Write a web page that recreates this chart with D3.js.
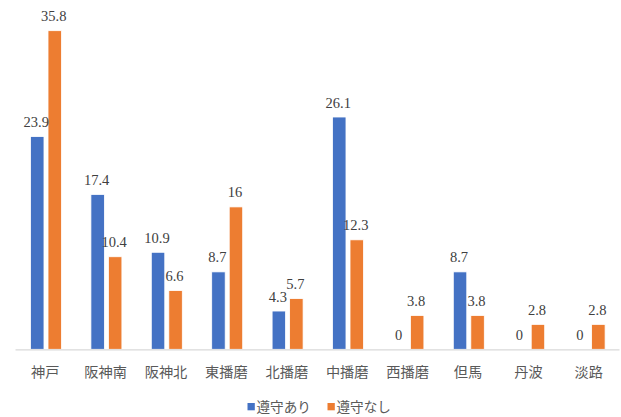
<!DOCTYPE html>
<html><head><meta charset="utf-8">
<script src="https://cdn.jsdelivr.net/npm/d3@7"></script>
<style>body{margin:0;background:#fff}
.val{font-family:"Liberation Serif","Times New Roman",Times,"DejaVu Serif",serif;}
.cjk{font-family:"Noto Sans CJK JP","Noto Sans CJK SC",sans-serif;}
</style>
</head><body>
<svg id="c" width="621" height="417"></svg>
<script>
const categories = ["神戸","阪神南","阪神北","東播磨","北播磨","中播磨","西播磨","但馬","丹波","淡路"];
const seriesNames = ["遵守あり","遵守なし"];
const withCompliance = [23.9,17.4,10.9,8.7,4.3,26.1,0,8.7,0,0];
const withoutCompliance = [35.8,10.4,6.6,16,5.7,12.3,3.8,3.8,2.8,2.8];
const colors = ["#4472C4","#ED7D31"];

const svg = d3.select("#c");
const base = 349.3;
const x = d3.scaleBand().domain(categories).range([15, 619]);
const inner = d3.scaleBand().domain(seriesNames).range([15.5, 46.5]).paddingInner(0.23);
const y = d3.scaleLinear().domain([0, 40]).range([base, base - 356]);

const data = categories.map((c,i)=>({c, vals:[withCompliance[i], withoutCompliance[i]]}));

const g = svg.append("g");
const groups = g.selectAll("g.cat").data(data).join("g")
  .attr("transform", d=>`translate(${x(d.c)},0)`);

groups.selectAll("rect").data(d=>d.vals.map((v,k)=>({v,k,s:seriesNames[k]}))).join("rect")
  .filter(d=>d.v>0)
  .attr("x", d=>inner(d.s)).attr("width", inner.bandwidth())
  .attr("y", d=>y(d.v)).attr("height", d=>base - y(d.v))
  .attr("fill", d=>colors[d.k])
  .attr("stroke","#fff").attr("stroke-width",0.8);

groups.selectAll("text.val").data(d=>d.vals.map((v,k)=>({v,k,s:seriesNames[k]}))).join("text")
  .attr("class","val")
  .attr("x", d=>inner(d.s)+inner.bandwidth()/2 - 1)
  .attr("y", d=>y(d.v) - 9.5)
  .attr("text-anchor","middle")
  .style("font-size","14.5px")
  .attr("fill","#404040")
  .text(d=>d.v);

// axis
const axis = d3.axisBottom(x).tickSize(0).tickPadding(0);
const ax = svg.append("g").attr("transform",`translate(0,${base})`).call(axis);
ax.attr("font-family",null).attr("font-size",null);
ax.select(".domain").attr("stroke","#d9d9d9").attr("stroke-width",1.2);
ax.selectAll(".tick text")
  .attr("dy", null).attr("y", 28)
  .attr("class","cjk")
  .style("font-size","14.2px")
  .attr("fill","#595959");

// legend
const leg = svg.append("g");
const legX = [247.5, 327.5];
seriesNames.forEach((s,k)=>{
  leg.append("rect").attr("x",legX[k]).attr("y",403).attr("width",7.3).attr("height",7.3).attr("fill",colors[k]);
  leg.append("text").attr("class","cjk").attr("x",legX[k]+9).attr("y",412)
    .style("font-size","13.6px")
    .attr("fill","#595959").text(s);
});
</script>
</body></html>
